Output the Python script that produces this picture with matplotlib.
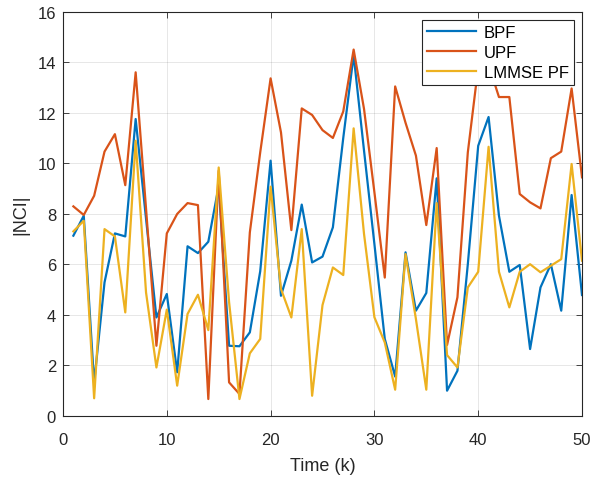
import matplotlib
matplotlib.use("Agg")
import matplotlib.pyplot as plt
import numpy as np

plt.rcParams['font.family'] = ['Liberation Sans', 'DejaVu Sans']

time_k = list(range(1, 51))
bpf = [7.13, 7.92, 1.3, 5.28, 7.22, 7.10, 11.75, 7.8, 3.89, 4.82,
       1.72, 6.71, 6.44, 6.89, 9.1, 2.77, 2.75, 3.3, 5.72, 10.1,
       4.75, 6.14, 8.36, 6.07, 6.3, 7.46, 11.0, 14.28, 10.5, 6.8,
       3.04, 1.55, 6.47, 4.16, 4.86, 9.4, 0.99, 1.78, 6.0, 10.69,
       11.83, 7.92, 5.7, 5.97, 2.64, 5.08, 6.0, 4.16, 8.74, 4.78]
upf = [8.29, 7.95, 8.71, 10.46, 11.15, 9.13, 13.6, 8.2, 2.77, 7.22,
       7.99, 8.42, 8.34, 0.66, 9.7, 1.32, 0.86, 7.26, 10.43, 13.36,
       11.22, 7.35, 12.17, 11.91, 11.31, 11.0, 12.05, 14.5, 12.15, 8.85,
       5.47, 13.04, 11.6, 10.3, 7.55, 10.6, 2.8, 4.69, 10.43, 13.8,
       13.9, 12.62, 12.62, 8.78, 8.45, 8.21, 10.2, 10.46, 12.96, 9.44]
lmmse = [7.3, 7.72, 0.69, 7.39, 7.1, 4.09, 10.89, 4.88, 1.91, 4.2,
         1.19, 4.03, 4.79, 3.39, 9.83, 4.5, 0.66, 2.47, 3.04, 9.07,
         5.02, 3.89, 7.39, 0.79, 4.38, 5.87, 5.57, 11.38, 7.2, 3.9,
         2.9, 1.03, 6.4, 3.83, 1.03, 8.42, 2.4, 1.91, 5.08, 5.7,
         10.65, 5.7, 4.29, 5.7, 6.0, 5.68, 5.94, 6.2, 9.97, 6.14]
series_names = ['BPF', 'UPF', 'LMMSE PF']
colors = ['#0072BD', '#D95319', '#EDB120']
x_ticks = [0, 10, 20, 30, 40, 50]
y_ticks = [0, 2, 4, 6, 8, 10, 12, 14, 16]

fig = plt.figure(figsize=(5.93, 4.81), dpi=100)
ax = fig.add_axes([63/593, 1 - 416.7/481, 519/593, 404/481])

for vals, name, c in zip([bpf, upf, lmmse], series_names, colors):
    ax.plot(time_k, vals, color=c, linewidth=1.6, label=name)

ax.set_xlim(0, 50)
ax.set_ylim(0, 16)
ax.set_xticks(x_ticks)
ax.set_yticks(y_ticks)
ax.grid(True, color='#262626', alpha=0.13, linewidth=0.6)
ax.set_axisbelow(True)
ax.tick_params(direction='in', length=4, width=0.6, colors='#262626',
               labelsize=12, top=True, right=True, pad=5)
ax.tick_params(axis='x', pad=12)
for lab in ax.get_xticklabels() + ax.get_yticklabels():
    lab.set_color('#262626')
for s in ax.spines.values():
    s.set_color('#262626')
    s.set_linewidth(0.8)

ax.set_xlabel('Time (k)', fontsize=13, color='#262626', labelpad=7)
ax.set_ylabel('|NCI|', fontsize=13, color='#262626', labelpad=6)

leg = ax.legend(loc='upper right', bbox_to_anchor=(0.9846, 0.980),
                borderaxespad=0, fancybox=False, framealpha=1,
                edgecolor='#262626', fontsize=12, handlelength=2.9,
                labelspacing=0.3, borderpad=0.3, handletextpad=0.5)
leg.get_frame().set_linewidth(0.8)

fig.savefig('out.png', dpi=100)
